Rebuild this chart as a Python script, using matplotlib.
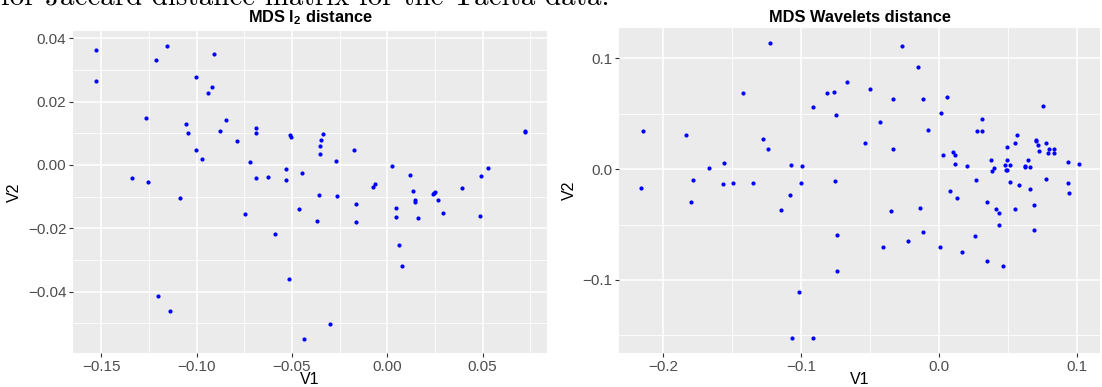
### MDS scatter plots: l2 distance vs wavelets distance

import matplotlib.pyplot as plt

plt.rcParams['font.family'] = 'Liberation Sans'
plt.rcParams['mathtext.fontset'] = 'custom'
plt.rcParams['mathtext.rm'] = 'Liberation Sans'
plt.rcParams['mathtext.bf'] = 'Liberation Sans:bold'

# MDS coordinates, l2 distance
l2_v1 = [-0.153, -0.153, -0.1156, -0.1212, -0.0908, -0.1005, -0.0921, -0.0942,
         -0.1264, -0.0848, -0.1058, -0.1046, -0.0878, -0.0789, -0.0690, -0.0690,
         -0.1005, -0.0971, -0.0720, -0.1341, -0.1256, -0.0690, -0.0627, -0.1086,
         -0.0511, -0.0507, -0.0339, -0.0348, -0.0352, -0.0352, -0.0175, -0.0269,
         -0.0533, -0.0449, -0.0533, -0.0360, -0.0266, -0.0077, -0.0066, 0.0023,
         0.0119, 0.0135, 0.0238, 0.0247, 0.0250, 0.0145, 0.0264, 0.0390,
         0.0492, 0.0527, 0.0721, 0.0721, -0.0748, -0.0588, -0.1203, -0.1142,
         -0.0462, -0.0370, -0.0166, -0.0166, 0.0047, 0.0046, 0.0147, 0.0161,
         0.0292, 0.0486, 0.0063, 0.0077, -0.0514, -0.0301, -0.0439]
l2_v2 = [0.0362, 0.0265, 0.0377, 0.0330, 0.0350, 0.0278, 0.0245, 0.0228,
         0.0148, 0.0142, 0.0130, 0.0102, 0.0107, 0.0077, 0.0118, 0.0101,
         0.0047, 0.0018, 0.0009, -0.0042, -0.0054, -0.0040, -0.0038, -0.0103,
         0.0093, 0.0087, 0.0097, 0.0078, 0.0060, 0.0036, 0.0048, 0.0013,
         -0.0012, -0.0024, -0.0047, -0.0096, -0.0097, -0.0070, -0.0059, -0.0004,
         -0.0032, -0.0081, -0.0093, -0.0088, -0.0084, -0.0112, -0.0110, -0.0074,
         -0.0034, -0.0009, 0.0104, 0.0106, -0.0155, -0.0218, -0.0413, -0.0462,
         -0.0139, -0.0176, -0.0125, -0.0180, -0.0135, -0.0164, -0.0118, -0.0168,
         -0.0153, -0.0160, -0.0252, -0.0319, -0.0360, -0.0501, -0.0549]

# MDS coordinates, wavelets distance
wv_v1 = [-0.1222, -0.1422, -0.2140, -0.1829, -0.1273, -0.1239, -0.0914, -0.0810,
         -0.1666, -0.1557, -0.1070, -0.0993, -0.1782, -0.1565, -0.1490, -0.1345,
         -0.0996, -0.2158, -0.1080, -0.0759, -0.0665, -0.0745, -0.0268, -0.0152,
         -0.0499, -0.0330, -0.0116, 0.0062, 0.0017, -0.0429, -0.0080, -0.0533,
         -0.0330, 0.0315, 0.0277, 0.0311, 0.0756, 0.0564, 0.0549, 0.0494,
         0.0701, 0.0704, 0.0718, 0.0778, 0.0723, 0.0800, 0.0836, 0.0793,
         0.0836, 0.0103, 0.0120, 0.0029, 0.0118, 0.0205, 0.0378, 0.0496,
         0.0648, 0.0479, 0.0513, 0.0400, 0.0385, 0.0489, 0.0496, 0.0622,
         0.0626, 0.0658, 0.0937, 0.1012, -0.0755, 0.0268, 0.0518, 0.0581,
         0.0658, 0.0774, 0.0933, 0.0940, 0.0084, 0.0130, -0.1140, -0.1793,
         -0.1012, -0.1061, -0.0909, 0.0351, 0.0412, 0.0438, 0.0549, 0.0689,
         -0.0350, -0.0137, -0.0114, -0.0735, -0.0222, -0.0408, 0.0007, 0.0171,
         0.0262, 0.0438, 0.0689, 0.0349, 0.0463, -0.0735]
wv_v2 = [0.1141, 0.0685, 0.0345, 0.0312, 0.0273, 0.0183, 0.0561, 0.0687,
         0.0014, 0.0054, 0.0039, 0.0032, -0.0099, -0.0132, -0.0126, -0.0126,
         -0.0126, -0.0166, -0.0229, 0.0699, 0.0784, 0.0492, 0.1108, 0.0924,
         0.0723, 0.0633, 0.0633, 0.0654, 0.0504, 0.0426, 0.0354, 0.0234,
         0.0186, 0.0450, 0.0342, 0.0342, 0.0570, 0.0312, 0.0234, 0.0204,
         0.0261, 0.0255, 0.0216, 0.0234, 0.0168, 0.0186, 0.0186, 0.0144,
         0.0144, 0.0156, 0.0126, 0.0126, 0.0050, 0.0027, 0.0084, 0.0081,
         0.0084, 0.0036, 0.0036, 0.0012, -0.0013, -0.0004, -0.0006, 0.0032,
         0.0018, 0.0018, 0.0066, 0.0050, -0.0108, -0.0094, -0.0114, -0.0141,
         -0.0177, -0.0085, -0.0121, -0.0216, -0.0198, -0.0259, -0.0364, -0.0297,
         -0.1105, -0.1526, -0.1526, -0.0297, -0.0358, -0.0400, -0.0360, -0.0324,
         -0.0376, -0.0346, -0.0568, -0.0592, -0.0646, -0.0706, -0.0703, -0.0751,
         -0.0601, -0.0505, -0.0550, -0.0832, -0.0874, -0.0923]

l2_xticks = [-0.15, -0.10, -0.05, 0.00, 0.05]
l2_yticks = [-0.04, -0.02, 0.00, 0.02, 0.04]
wv_xticks = [-0.2, -0.1, 0.0, 0.1]
wv_yticks = [-0.1, 0.0, 0.1]


def gg_panel(ax, x, y, xt, yt, fmt_x, fmt_y, title):
    # grey panel with white grid, like ggplot's theme_grey
    ax.set_facecolor('#EBEBEB')
    for s in ax.spines.values():
        s.set_visible(False)
    ax.scatter(x, y, s=9, color='#0000FF', linewidths=0, zorder=3)
    ax.margins(0.05)
    ax.set_xticks(xt)
    ax.set_yticks(yt)
    xminor = [(a + b) / 2 for a, b in zip(xt[:-1], xt[1:])]
    yminor = [(a + b) / 2 for a, b in zip(yt[:-1], yt[1:])]
    xminor = [xt[0] - (xt[1] - xt[0]) / 2] + xminor + [xt[-1] + (xt[1] - xt[0]) / 2]
    yminor = [yt[0] - (yt[1] - yt[0]) / 2] + yminor + [yt[-1] + (yt[1] - yt[0]) / 2]
    ax.set_xticks(xminor, minor=True)
    ax.set_yticks(yminor, minor=True)
    ax.set_xticklabels([fmt_x.format(v).replace('-', '\u2212') for v in xt])
    ax.set_yticklabels([fmt_y.format(v).replace('-', '\u2212') for v in yt])
    ax.grid(which='major', color='white', linewidth=1.1, zorder=0)
    ax.grid(which='minor', color='white', linewidth=0.6, zorder=0)
    ax.set_axisbelow(True)
    ax.tick_params(which='major', length=3, width=0.8, color='#333333',
                   labelsize=11, labelcolor='#4D4D4D', pad=2)
    ax.tick_params(which='minor', length=0)
    ax.set_xlabel('V1', fontsize=11.5, labelpad=-1.5)
    ax.set_ylabel('V2', fontsize=11.5, labelpad=4)
    # title centred over the panel, baseline 22 px below the top edge
    pos = ax.get_position()
    fig.text((pos.x0 + pos.x1) / 2, 1 - 22 / 387, title, fontsize=11.8,
             fontweight='bold', ha='center', va='baseline')


fig = plt.figure(figsize=(11.02, 3.87), dpi=100)

ax1 = fig.add_axes([0.0665, 0.0879, 0.4299, 0.8320])
gg_panel(ax1, l2_v1, l2_v2, l2_xticks, l2_yticks, '{:.2f}', '{:.2f}',
         r'MDS l$_\mathbf{2}$ distance')
ax1.set_xlim(-0.1647, 0.0838)
ax1.set_ylim(-0.0594, 0.0423)

ax2 = fig.add_axes([0.5617, 0.0879, 0.4369, 0.8397])
gg_panel(ax2, wv_v1, wv_v2, wv_xticks, wv_yticks, '{:.1f}', '{:.1f}',
         'MDS Wavelets distance')
ax2.set_xlim(-0.2317, 0.1171)
ax2.set_ylim(-0.1659, 0.1274)

# tail of the caption line running in from above
fig.text(1 / 1102, 1 - 5 / 387, 'for Jaccard distance matrix for the Tacita data.',
         fontsize=20.9, family='cmr10', ha='left', va='baseline')

fig.savefig('out.png', dpi=100)
